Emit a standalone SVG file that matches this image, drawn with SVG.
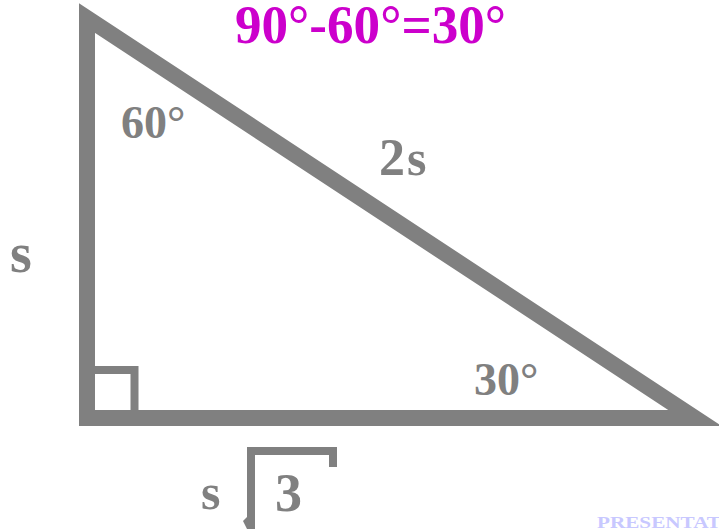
<svg xmlns="http://www.w3.org/2000/svg" width="719" height="529" viewBox="0 0 719 529">
<style>
.g{fill:#808080;font-family:"Liberation Serif","Times New Roman",serif;font-weight:bold}
.ln{fill:none;stroke:#808080;stroke-linejoin:miter;stroke-miterlimit:10}
</style>
<rect width="719" height="529" fill="#ffffff"/>
<g id="triangle">
<polygon class="ln" stroke-width="16" points="87,18 87,418 695,418"/>
<polyline class="ln" stroke-width="8" points="95,370 134.5,370 134.5,410"/>
</g>
<g id="title">
<text x="235" y="43" font-family="Liberation Serif,'Times New Roman',serif" font-weight="bold" font-size="54" fill="#CC00CC" textLength="271" lengthAdjust="spacingAndGlyphs">90°-60°=30°</text>
</g>
<g id="labels">
<text class="g" x="10" y="272" font-size="56">s</text>
<text class="g" x="379" y="175" font-size="52">2</text>
<text class="g" x="407" y="175" font-size="50">s</text>
<text class="g" x="121" y="138" font-size="46">60°</text>
<text class="g" x="474" y="395" font-size="46">30°</text>
</g>
<g id="base-label">
<text class="g" x="201" y="509" font-size="50">s</text>
<polyline class="ln" stroke-width="8" points="251,529 251,451 333,451 333,467"/>
<polygon fill="#808080" points="243,521 248,516 248,529 247,529"/>
<text class="g" x="275" y="511" font-size="54">3</text>
</g>
<text x="597" y="528" font-family="Liberation Serif,'Times New Roman',serif" font-weight="bold" font-size="17.5" fill="#C8C8FF" textLength="124" lengthAdjust="spacingAndGlyphs">PRESENTAT</text>
</svg>
